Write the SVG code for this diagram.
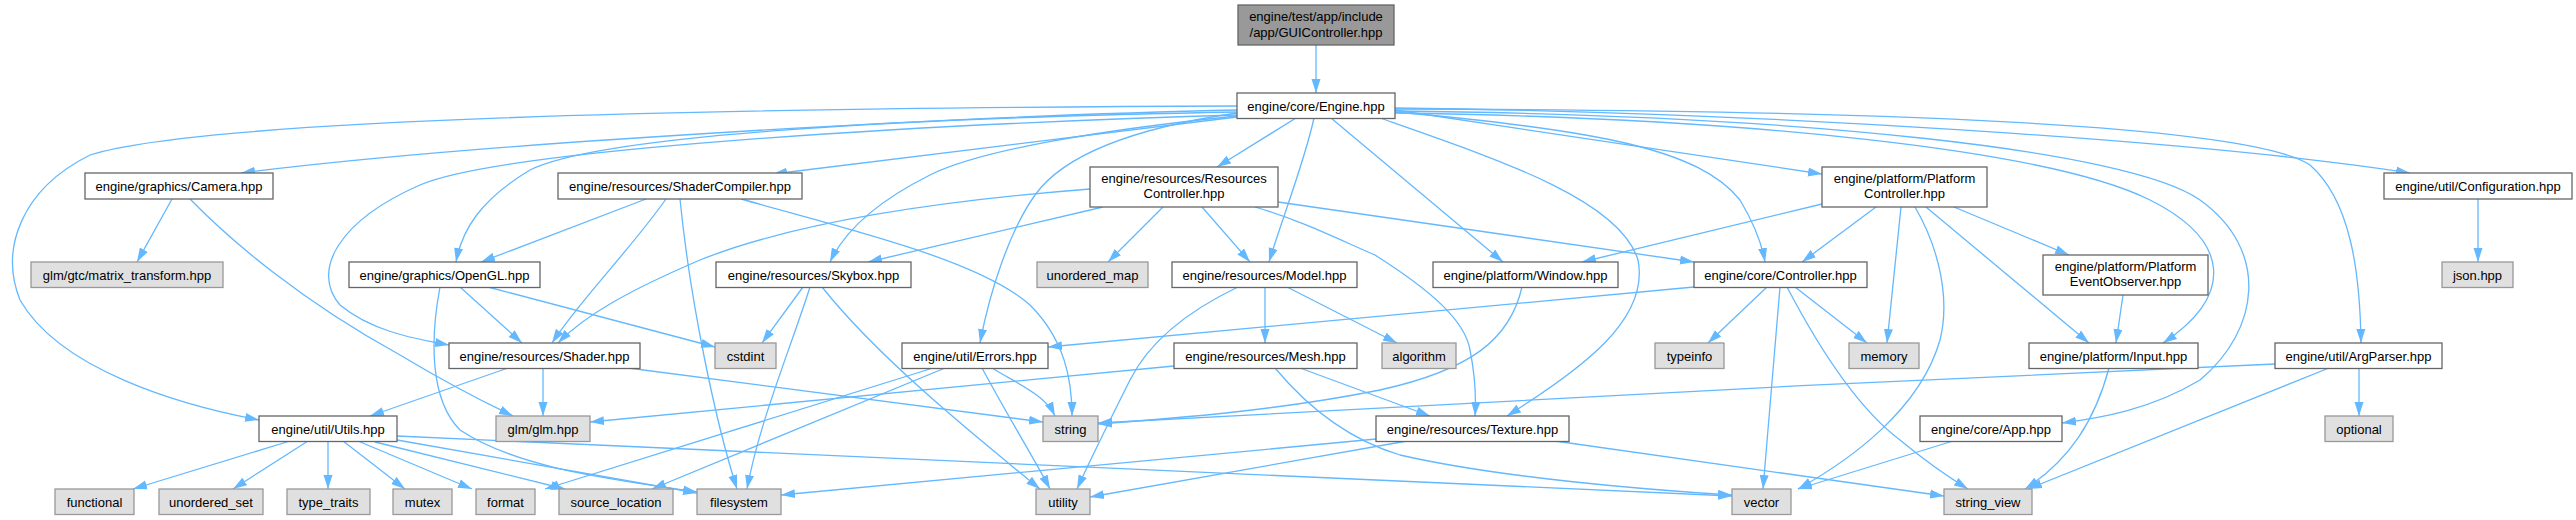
<svg xmlns="http://www.w3.org/2000/svg" width="2576" height="520" viewBox="0 0 2576 520">
<style>
.n rect{fill:#ffffff;stroke:#666666;stroke-width:1.3}
.x rect{fill:#e0e0e0;stroke:#999999;stroke-width:1.3}
.r rect{fill:#999999;stroke:#666666;stroke-width:1.3}
text{font-family:"Liberation Sans",Arial,sans-serif;font-size:13px;text-anchor:middle;fill:#000000}
#edges path{fill:none;stroke:#63b8ff;stroke-width:1.3;marker-end:url(#a)}
</style>
<defs>
<marker id="a" markerUnits="userSpaceOnUse" markerWidth="14" markerHeight="10" refX="14" refY="5" orient="auto" viewBox="0 0 14 10">
<path d="M0,0.5 L14,5 L0,9.5 z" fill="#63b8ff"/>
</marker>
</defs>
<rect x="0" y="0" width="2576" height="520" fill="#ffffff"/>
<g id="edges">
<path d="M1316,45 L1316,93"/>
<path d="M1237,110 C1000,115 500,140 241,173"/>
<path d="M1237,106 C700,108 200,120 90,155 C20,190 0,250 20,300 C60,370 180,405 259,420"/>
<path d="M1237,117 L773,174"/>
<path d="M1237,112 C900,118 600,135 530,170 C480,200 462,230 456,262"/>
<path d="M1237,115 C900,125 500,150 420,185 C340,220 310,270 340,305 C370,330 410,338 449,345"/>
<path d="M1237,116 C1100,130 980,150 930,175 C880,200 845,230 830,262"/>
<path d="M1237,113 C1120,130 1060,160 1035,195 C1010,230 990,290 980,343"/>
<path d="M1296,118 L1217,167"/>
<path d="M1314,118 C1305,160 1285,210 1269,262"/>
<path d="M1331,118 L1503,262"/>
<path d="M1380,118 C1500,160 1620,200 1638,260 C1650,320 1580,370 1507,416"/>
<path d="M1395,112 C1600,130 1700,150 1740,200 C1755,225 1762,245 1765,262"/>
<path d="M1395,110 L1822,174"/>
<path d="M1395,113 C1750,118 2050,150 2150,200 C2230,240 2235,295 2163,343"/>
<path d="M1395,111 C1800,115 2130,150 2200,200 C2270,250 2260,330 2200,380 C2150,410 2100,418 2062,423"/>
<path d="M1395,109 C1900,110 2250,125 2310,165 C2350,200 2360,270 2361,343"/>
<path d="M1395,108 C1750,112 2200,140 2410,173"/>
<path d="M1090,189 C950,200 800,220 700,260 C630,290 585,315 558,343"/>
<path d="M1103,207 L868,262"/>
<path d="M1163,207 L1108,262"/>
<path d="M1202,207 L1250,262"/>
<path d="M1255,207 C1300,220 1340,240 1375,255 C1430,290 1465,320 1470,350 C1476,380 1476,400 1475,416"/>
<path d="M1278,202 L1694,262"/>
<path d="M1822,204 L1582,262"/>
<path d="M1876,207 L1802,262"/>
<path d="M1901,207 L1887,343"/>
<path d="M1915,207 C1940,250 1950,300 1940,340 C1920,410 1850,460 1798,489"/>
<path d="M1926,207 L2089,343"/>
<path d="M1954,207 L2069,255"/>
<path d="M2478,199 L2478,262"/>
<path d="M172,199 L137,262"/>
<path d="M190,199 C230,240 300,300 400,355 C450,385 490,405 513,416"/>
<path d="M646,199 L481,262"/>
<path d="M666,199 C630,250 580,300 552,343"/>
<path d="M680,199 C690,300 715,420 737,489"/>
<path d="M741,199 C850,230 980,260 1030,305 C1065,340 1072,380 1072,416"/>
<path d="M460,287 L522,343"/>
<path d="M488,287 L715,347"/>
<path d="M440,287 C430,340 430,400 460,430 C520,470 620,480 697,492"/>
<path d="M803,287 L762,343"/>
<path d="M810,287 C790,350 760,420 747,489"/>
<path d="M822,287 C880,360 980,440 1040,489"/>
<path d="M1265,287 L1265,343"/>
<path d="M1287,287 L1397,343"/>
<path d="M1238,287 C1190,310 1150,340 1130,380 C1110,420 1090,460 1077,489"/>
<path d="M1522,287 C1510,340 1470,370 1380,390 C1280,410 1180,418 1098,424"/>
<path d="M1694,287 L1048,347"/>
<path d="M1767,287 L1708,343"/>
<path d="M1795,287 L1867,343"/>
<path d="M1780,287 L1763,489"/>
<path d="M1787,287 C1820,350 1860,410 1900,440 C1930,465 1950,478 1968,489"/>
<path d="M2123,295 L2116,343"/>
<path d="M508,368 L370,416"/>
<path d="M543,368 L543,416"/>
<path d="M628,368 L1043,422"/>
<path d="M933,368 L545,489"/>
<path d="M945,368 L652,489"/>
<path d="M992,368 C1020,385 1045,395 1055,416"/>
<path d="M982,368 C1010,420 1035,460 1050,489"/>
<path d="M1174,366 L590,422"/>
<path d="M1300,368 L1430,416"/>
<path d="M1275,368 C1310,410 1350,440 1400,455 C1500,478 1650,490 1732,495"/>
<path d="M2109,368 C2095,420 2070,460 2025,489"/>
<path d="M2275,364 C1900,380 1400,405 1098,423"/>
<path d="M2359,368 L2359,416"/>
<path d="M2329,368 L2028,489"/>
<path d="M290,441 L133,489"/>
<path d="M308,441 L233,489"/>
<path d="M328,441 L328,489"/>
<path d="M343,441 L405,489"/>
<path d="M358,441 L472,489"/>
<path d="M375,442 L565,489"/>
<path d="M397,440 L697,493"/>
<path d="M397,436 L1732,496"/>
<path d="M1376,439 L781,495"/>
<path d="M1407,441 L1090,497"/>
<path d="M1555,441 L1944,496"/>
<path d="M1953,441 L1798,489"/>
</g>
<g id="n_gui" class="r"><rect x="1238" y="5" width="156" height="40"/><text x="1316" y="21">engine/test/app/include</text><text x="1316" y="37">/app/GUIController.hpp</text></g>
<g id="n_engine" class="n"><rect x="1237" y="93" width="158" height="25.5"/><text x="1316" y="110.5">engine/core/Engine.hpp</text></g>
<g id="n_camera" class="n"><rect x="85" y="173" width="188" height="26"/><text x="179" y="190.7">engine/graphics/Camera.hpp</text></g>
<g id="n_shadercompiler" class="n"><rect x="558" y="173" width="244" height="26"/><text x="680" y="190.7">engine/resources/ShaderCompiler.hpp</text></g>
<g id="n_rescontroller" class="n"><rect x="1090" y="167" width="188" height="40"/><text x="1184" y="183">engine/resources/Resources</text><text x="1184" y="198">Controller.hpp</text></g>
<g id="n_platcontroller" class="n"><rect x="1822" y="167" width="165" height="40"/><text x="1904.5" y="183">engine/platform/Platform</text><text x="1904.5" y="198">Controller.hpp</text></g>
<g id="n_config" class="n"><rect x="2384" y="173" width="188" height="26"/><text x="2478" y="190.7">engine/util/Configuration.hpp</text></g>
<g id="n_matrix" class="x"><rect x="31" y="262" width="192" height="25.5"/><text x="127" y="279.5">glm/gtc/matrix_transform.hpp</text></g>
<g id="n_opengl" class="n"><rect x="349" y="262" width="191" height="25.5"/><text x="444.5" y="279.5">engine/graphics/OpenGL.hpp</text></g>
<g id="n_skybox" class="n"><rect x="716" y="262" width="195" height="25.5"/><text x="813.5" y="279.5">engine/resources/Skybox.hpp</text></g>
<g id="n_umap" class="x"><rect x="1037" y="262" width="111" height="25.5"/><text x="1092.5" y="279.5">unordered_map</text></g>
<g id="n_model" class="n"><rect x="1172" y="262" width="185" height="25.5"/><text x="1264.5" y="279.5">engine/resources/Model.hpp</text></g>
<g id="n_window" class="n"><rect x="1433" y="262" width="185" height="25.5"/><text x="1525.5" y="279.5">engine/platform/Window.hpp</text></g>
<g id="n_controller" class="n"><rect x="1694" y="262" width="173" height="25.5"/><text x="1780.5" y="279.5">engine/core/Controller.hpp</text></g>
<g id="n_peo" class="n"><rect x="2043" y="255" width="165" height="40"/><text x="2125.5" y="271">engine/platform/Platform</text><text x="2125.5" y="286">EventObserver.hpp</text></g>
<g id="n_json" class="x"><rect x="2442" y="262" width="71" height="25.5"/><text x="2477.5" y="279.5">json.hpp</text></g>
<g id="n_shader" class="n"><rect x="449" y="343" width="191" height="25.5"/><text x="544.5" y="360.5">engine/resources/Shader.hpp</text></g>
<g id="n_cstdint" class="x"><rect x="715" y="343" width="61" height="25.5"/><text x="745.5" y="360.5">cstdint</text></g>
<g id="n_errors" class="n"><rect x="902" y="343" width="146" height="25.5"/><text x="975" y="360.5">engine/util/Errors.hpp</text></g>
<g id="n_mesh" class="n"><rect x="1174" y="343" width="183" height="25.5"/><text x="1265.5" y="360.5">engine/resources/Mesh.hpp</text></g>
<g id="n_algorithm" class="x"><rect x="1382" y="343" width="74" height="25.5"/><text x="1419" y="360.5">algorithm</text></g>
<g id="n_typeinfo" class="x"><rect x="1655" y="343" width="69" height="25.5"/><text x="1689.5" y="360.5">typeinfo</text></g>
<g id="n_memory" class="x"><rect x="1849" y="343" width="70" height="25.5"/><text x="1884" y="360.5">memory</text></g>
<g id="n_input" class="n"><rect x="2029" y="343" width="169" height="25.5"/><text x="2113.5" y="360.5">engine/platform/Input.hpp</text></g>
<g id="n_argparser" class="n"><rect x="2275" y="343" width="167" height="25.5"/><text x="2358.5" y="360.5">engine/util/ArgParser.hpp</text></g>
<g id="n_utils" class="n"><rect x="259" y="416" width="138" height="25.5"/><text x="328" y="433.5">engine/util/Utils.hpp</text></g>
<g id="n_glm" class="x"><rect x="496" y="416" width="94" height="25.5"/><text x="543" y="433.5">glm/glm.hpp</text></g>
<g id="n_string" class="x"><rect x="1043" y="416" width="55" height="25.5"/><text x="1070.5" y="433.5">string</text></g>
<g id="n_texture" class="n"><rect x="1376" y="416" width="193" height="25.5"/><text x="1472.5" y="433.5">engine/resources/Texture.hpp</text></g>
<g id="n_app" class="n"><rect x="1920" y="416" width="142" height="25.5"/><text x="1991" y="433.5">engine/core/App.hpp</text></g>
<g id="n_optional" class="x"><rect x="2325" y="416" width="68" height="25.5"/><text x="2359" y="433.5">optional</text></g>
<g id="n_functional" class="x"><rect x="55" y="489" width="79" height="25.5"/><text x="94.5" y="506.5">functional</text></g>
<g id="n_uset" class="x"><rect x="159" y="489" width="104" height="25.5"/><text x="211" y="506.5">unordered_set</text></g>
<g id="n_typetraits" class="x"><rect x="287" y="489" width="83" height="25.5"/><text x="328.5" y="506.5">type_traits</text></g>
<g id="n_mutex" class="x"><rect x="393" y="489" width="59" height="25.5"/><text x="422.5" y="506.5">mutex</text></g>
<g id="n_format" class="x"><rect x="476" y="489" width="59" height="25.5"/><text x="505.5" y="506.5">format</text></g>
<g id="n_srcloc" class="x"><rect x="559" y="489" width="114" height="25.5"/><text x="616" y="506.5">source_location</text></g>
<g id="n_filesystem" class="x"><rect x="697" y="489" width="84" height="25.5"/><text x="739" y="506.5">filesystem</text></g>
<g id="n_utility" class="x"><rect x="1036" y="489" width="54" height="25.5"/><text x="1063" y="506.5">utility</text></g>
<g id="n_vector" class="x"><rect x="1732" y="489" width="59" height="25.5"/><text x="1761.5" y="506.5">vector</text></g>
<g id="n_stringview" class="x"><rect x="1944" y="489" width="88" height="25.5"/><text x="1988" y="506.5">string_view</text></g>
</svg>
